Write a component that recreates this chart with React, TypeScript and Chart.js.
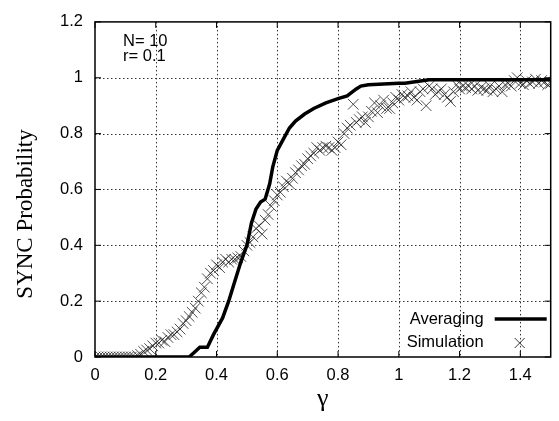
import React, { useEffect, useRef } from "react";
import { Chart, registerables } from "chart.js";

Chart.register(...registerables);

// Averaging (theory) curve
const avgGamma = [0, 0.31, 0.33, 0.345, 0.37, 0.39, 0.42, 0.44, 0.46, 0.48, 0.5, 0.515, 0.53, 0.545, 0.56, 0.575, 0.585, 0.6, 0.62, 0.64, 0.66, 0.69, 0.72, 0.76, 0.8, 0.83, 0.86, 0.875, 0.9, 1.0, 1.02, 1.1, 1.5];
const avgProb = [0, 0, 0.02, 0.035, 0.035, 0.08, 0.14, 0.2, 0.27, 0.34, 0.4, 0.48, 0.53, 0.555, 0.565, 0.62, 0.68, 0.74, 0.78, 0.82, 0.845, 0.87, 0.89, 0.91, 0.925, 0.935, 0.96, 0.97, 0.975, 0.98, 0.98, 0.993, 0.993];

// Simulation points
const simGamma = [
  0.0, 0.01, 0.02, 0.03, 0.04, 0.05, 0.06, 0.07, 0.08, 0.09,
  0.1, 0.11, 0.12, 0.13, 0.14, 0.15, 0.16, 0.17, 0.18, 0.19,
  0.2, 0.21, 0.22, 0.23, 0.24, 0.25, 0.26, 0.27, 0.28, 0.29,
  0.3, 0.31, 0.32, 0.33, 0.34, 0.35, 0.36, 0.37, 0.38, 0.39,
  0.4, 0.41, 0.42, 0.43, 0.44, 0.45, 0.46, 0.47, 0.48, 0.49,
  0.5, 0.51, 0.52, 0.53, 0.54, 0.55, 0.56, 0.57, 0.58, 0.59,
  0.6, 0.61, 0.62, 0.63, 0.64, 0.65, 0.66, 0.67, 0.68, 0.69,
  0.7, 0.71, 0.72, 0.73, 0.74, 0.75, 0.76, 0.77, 0.78, 0.79,
  0.8, 0.81, 0.82, 0.83, 0.84, 0.85, 0.86, 0.87, 0.88, 0.89,
  0.9, 0.91, 0.92, 0.93, 0.94, 0.95, 0.96, 0.97, 0.98, 0.99,
  1.0, 1.01, 1.02, 1.03, 1.04, 1.05, 1.06, 1.07, 1.08, 1.09,
  1.1, 1.11, 1.12, 1.13, 1.14, 1.15, 1.16, 1.17, 1.18, 1.19,
  1.2, 1.21, 1.22, 1.23, 1.24, 1.25, 1.26, 1.27, 1.28, 1.29,
  1.3, 1.31, 1.32, 1.33, 1.34, 1.35, 1.36, 1.37, 1.38, 1.39,
  1.4, 1.41, 1.42, 1.43, 1.44, 1.45, 1.46, 1.47, 1.48, 1.49,
  1.5,
];
const simProb = [
  0, 0, 0, 0, 0, 0, 0, 0, 0, 0,
  0, 0, 0, 0, 0.005, 0.01, 0.02, 0.025, 0.03, 0.04,
  0.05, 0.05, 0.06, 0.055, 0.07, 0.08, 0.08, 0.09, 0.1, 0.12,
  0.13, 0.145, 0.16, 0.175, 0.2, 0.23, 0.25, 0.28, 0.3, 0.31,
  0.33, 0.32, 0.34, 0.35, 0.34, 0.35, 0.35, 0.355, 0.36, 0.38,
  0.4, 0.41, 0.43, 0.46, 0.47, 0.44, 0.49, 0.51, 0.54, 0.56,
  0.58, 0.59, 0.61, 0.63, 0.62, 0.64, 0.66, 0.67, 0.685, 0.69,
  0.71, 0.72, 0.73, 0.75, 0.74, 0.75, 0.755, 0.75, 0.74, 0.75,
  0.77, 0.76, 0.8, 0.82, 0.83, 0.905, 0.84, 0.85, 0.86, 0.84,
  0.86, 0.88, 0.91, 0.875, 0.9, 0.92, 0.89, 0.89, 0.91, 0.93,
  0.92, 0.94, 0.93, 0.935, 0.95, 0.93, 0.92, 0.95, 0.96, 0.9,
  0.97, 0.96, 0.94, 0.95, 0.96, 0.94, 0.93, 0.915, 0.95, 0.975,
  0.96, 0.97, 0.965, 0.97, 0.96, 0.97, 0.955, 0.965, 0.96, 0.955,
  0.97, 0.95, 0.96, 0.97, 0.95, 0.975, 0.98, 0.97, 0.99, 1.0,
  0.98, 0.975, 0.99, 0.98, 0.985, 0.995, 0.98, 0.99, 0.985, 0.975,
  0.98,
];

const xTickValues = [0, 0.2, 0.4, 0.6, 0.8, 1, 1.2, 1.4];
const yTickValues = [0, 0.2, 0.4, 0.6, 0.8, 1, 1.2];
const seriesLabels = ["Averaging", "Simulation"];
const noteLines = ["N= 10", "r= 0.1"];
const xTitle = "\u03b3";
const yTitle = "SYNC Probability";

const SANS = "'Liberation Sans', Arial, Helvetica, sans-serif";
const SERIF = "'Liberation Serif', 'Times New Roman', serif";

const gridPlugin = {
  id: "dottedGrid",
  beforeDatasetsDraw(chart: any) {
    const { ctx, chartArea } = chart;
    const { left, right, top, bottom } = chartArea;
    const xs = chart.scales.x;
    const ys = chart.scales.y;
    ctx.save();
    ctx.strokeStyle = "#333";
    ctx.lineWidth = 1;
    ctx.setLineDash([1.5, 2.5]);
    xTickValues.forEach((v) => {
      const px = Math.round(xs.getPixelForValue(v)) + 0.5;
      if (px <= left + 1 || px >= right - 1) return;
      ctx.beginPath();
      ctx.moveTo(px, top);
      ctx.lineTo(px, bottom);
      ctx.stroke();
    });
    yTickValues.forEach((v) => {
      const py = Math.round(ys.getPixelForValue(v)) + 0.5;
      if (py <= top + 1 || py >= bottom - 1) return;
      ctx.beginPath();
      ctx.moveTo(left, py);
      ctx.lineTo(right, py);
      ctx.stroke();
    });
    ctx.restore();
  },
};

const framePlugin = {
  id: "frame",
  afterDraw(chart: any) {
    const { ctx, chartArea } = chart;
    const { left, right, top, bottom } = chartArea;
    const xs = chart.scales.x;
    const ys = chart.scales.y;
    ctx.save();
    ctx.strokeStyle = "#000";
    ctx.lineWidth = 1.5;
    ctx.strokeRect(left, top, right - left, bottom - top);
    // inward tick marks
    ctx.lineWidth = 1;
    const tl = 6;
    xTickValues.forEach((v) => {
      const px = xs.getPixelForValue(v);
      ctx.beginPath();
      ctx.moveTo(px, bottom);
      ctx.lineTo(px, bottom - tl);
      ctx.moveTo(px, top);
      ctx.lineTo(px, top + tl);
      ctx.stroke();
    });
    yTickValues.forEach((v) => {
      const py = ys.getPixelForValue(v);
      ctx.beginPath();
      ctx.moveTo(left, py);
      ctx.lineTo(left + tl, py);
      ctx.moveTo(right, py);
      ctx.lineTo(right - tl, py);
      ctx.stroke();
    });

    // note text
    ctx.fillStyle = "#000";
    ctx.font = `16.5px ${SANS}`;
    ctx.textAlign = "left";
    ctx.textBaseline = "alphabetic";
    noteLines.forEach((t, i) => {
      ctx.fillText(t, left + 28, top + 24 + i * 15);
    });

    // y title
    ctx.save();
    ctx.translate(26, 214);
    ctx.rotate(-Math.PI / 2);
    ctx.font = `23px ${SERIF}`;
    ctx.textAlign = "center";
    ctx.textBaseline = "middle";
    ctx.fillText(yTitle, 0, 0);
    ctx.restore();

    // legend
    const ds = chart.data.datasets;
    ctx.font = `16.5px ${SANS}`;
    ctx.textAlign = "right";
    ctx.textBaseline = "middle";
    const textRight = right - 67;
    const rowY = [bottom - 38, bottom - 15];
    ctx.fillText(ds[0].label, textRight, rowY[0]);
    ctx.fillText(ds[1].label, textRight, rowY[1]);
    ctx.strokeStyle = "#000";
    ctx.lineWidth = 3.5;
    ctx.beginPath();
    ctx.moveTo(right - 56, rowY[0]);
    ctx.lineTo(right - 4, rowY[0]);
    ctx.stroke();
    ctx.lineWidth = 0.9;
    ctx.strokeStyle = "#222";
    const cx = right - 31;
    const cy = rowY[1] + 1;
    const r = 5;
    ctx.beginPath();
    ctx.moveTo(cx - r, cy - r);
    ctx.lineTo(cx + r, cy + r);
    ctx.moveTo(cx + r, cy - r);
    ctx.lineTo(cx - r, cy + r);
    ctx.stroke();
    ctx.restore();
  },
};

export default function App() {
  const canvasRef = useRef<HTMLCanvasElement | null>(null);

  useEffect(() => {
    const canvas = canvasRef.current;
    if (!canvas) return;
    const avgData = avgGamma.map((g, i) => ({ x: g, y: avgProb[i] }));
    const simData = simGamma.map((g, i) => ({ x: g, y: simProb[i] }));
    const chart = new Chart(canvas, {
      type: "scatter",
      data: {
        datasets: [
          {
            label: seriesLabels[0],
            data: avgData,
            showLine: true,
            borderColor: "#000",
            backgroundColor: "#000",
            borderWidth: 3.5,
            pointRadius: 0,
            pointHoverRadius: 0,
            tension: 0,
            order: 1,
          },
          {
            label: seriesLabels[1],
            data: simData,
            showLine: false,
            pointStyle: "crossRot",
            pointRadius: 7.5,
            borderColor: "#222",
            backgroundColor: "#222",
            borderWidth: 0.8,
            order: 2,
          },
        ],
      },
      options: {
        responsive: false,
        animation: false,
        events: [],
        layout: { padding: { top: 14, right: 5, left: 0, bottom: 0 } },
        plugins: {
          legend: { display: false },
          tooltip: { enabled: false },
        },
        scales: {
          x: {
            type: "linear",
            min: 0,
            max: 1.5,
            afterBuildTicks: (scale: any) => {
              scale.ticks = xTickValues.map((v) => ({ value: v }));
            },
            afterFit: (scale: any) => {
              scale.height = 64;
            },
            grid: { display: false, drawTicks: false },
            border: { display: false },
            ticks: {
              color: "#000",
              font: { family: SANS, size: 16.5 },
              padding: 9,
              maxRotation: 0,
              callback: (v: any) => String(Number(v)),
            },
            title: {
              display: true,
              text: xTitle,
              color: "#000",
              font: { family: SERIF, size: 26 },
              padding: { top: 0, bottom: 6 },
            },
          },
          y: {
            type: "linear",
            min: 0,
            max: 1.2,
            afterBuildTicks: (scale: any) => {
              scale.ticks = yTickValues.map((v) => ({ value: v }));
            },
            afterFit: (scale: any) => {
              scale.width = 95;
            },
            grid: { display: false, drawTicks: false },
            border: { display: false },
            ticks: {
              color: "#000",
              font: { family: SANS, size: 16.5 },
              padding: 12,
              callback: (v: any) => String(Number(v)),
            },
          },
        },
      },
      plugins: [gridPlugin, framePlugin],
    } as any);
    return () => chart.destroy();
  }, []);

  return (
    <div style={{ position: "fixed", left: 0, top: 0, width: 559, height: 421, background: "#fff" }}>
      <canvas ref={canvasRef} width={559} height={421} style={{ display: "block" }} />
    </div>
  );
}
